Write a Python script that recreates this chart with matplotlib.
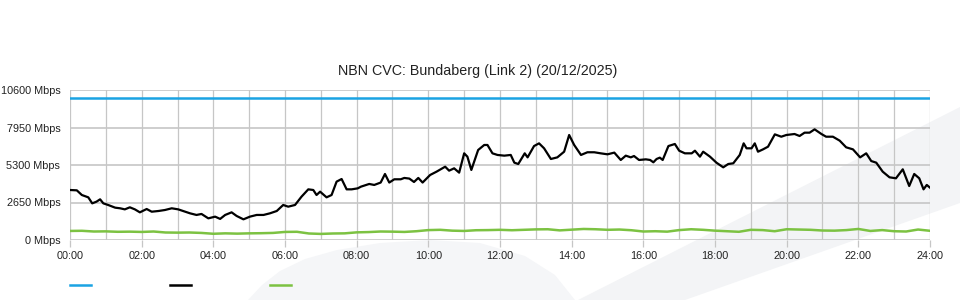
import matplotlib
matplotlib.use("Agg")
import matplotlib.pyplot as plt
from matplotlib.patches import Polygon
from matplotlib.lines import Line2D
import numpy as np

plt.rcParams['font.family'] = ['Liberation Sans', 'DejaVu Sans']

# chart data
title = "NBN CVC: Bundaberg (Link 2) (20/12/2025)"
y_ticks = [0, 2650, 5300, 7950, 10600]
y_tick_labels = ["0 Mbps", "2650 Mbps", "5300 Mbps", "7950 Mbps", "10600 Mbps"]
x_ticks = list(range(0, 25, 2))
x_tick_labels = ["00:00", "02:00", "04:00", "06:00", "08:00", "10:00", "12:00",
                 "14:00", "16:00", "18:00", "20:00", "22:00", "24:00"]

capacity = 10000  # Mbps, blue line

# black line: traffic (hour of day, Mbps)
traffic_hours = [0.0, 0.19, 0.33, 0.51, 0.62, 0.74, 0.84, 0.93, 1.07, 1.26, 1.4, 1.53,
                 1.67, 1.81, 1.95, 2.14, 2.28, 2.47, 2.65, 2.84, 3.02, 3.21, 3.35, 3.53,
                 3.67, 3.86, 4.05, 4.19, 4.33, 4.51, 4.65, 4.84, 5.02, 5.21, 5.4, 5.58,
                 5.77, 5.95, 6.09, 6.28, 6.46, 6.65, 6.79, 6.88, 6.98, 7.16, 7.3, 7.44,
                 7.58, 7.72, 7.86, 8.03, 8.12, 8.35, 8.49, 8.67, 8.79, 8.91, 9.05, 9.23,
                 9.33, 9.47, 9.6, 9.72, 9.84, 10.05, 10.23, 10.47, 10.58, 10.72, 10.86,
                 11.0, 11.09, 11.2, 11.39, 11.56, 11.65, 11.79, 11.93, 12.12, 12.3, 12.4,
                 12.51, 12.69, 12.77, 12.95, 13.09, 13.23, 13.42, 13.6, 13.79, 13.93,
                 14.07, 14.26, 14.44, 14.63, 14.81, 15.0, 15.19, 15.37, 15.51, 15.65,
                 15.74, 15.88, 16.07, 16.19, 16.28, 16.37, 16.46, 16.54, 16.7, 16.88,
                 17.0, 17.16, 17.35, 17.44, 17.58, 17.67, 17.86, 18.04, 18.23, 18.37,
                 18.51, 18.69, 18.8, 18.88, 19.02, 19.11, 19.2, 19.34, 19.48, 19.67,
                 19.85, 19.99, 20.22, 20.36, 20.5, 20.64, 20.78, 20.97, 21.1, 21.29,
                 21.48, 21.66, 21.85, 22.05, 22.22, 22.36, 22.5, 22.68, 22.87, 23.05,
                 23.24, 23.42, 23.56, 23.7, 23.82, 23.91, 24.0]
traffic = [3533, 3510, 3180, 3015, 2590, 2710, 2875, 2590, 2470, 2285, 2240, 2165,
           2310, 2165, 1955, 2190, 2000, 2050, 2120, 2240, 2165, 2000, 1885, 1770,
           1840, 1530, 1650, 1490, 1770, 1955, 1700, 1460, 1650, 1770, 1770, 1885,
           2050, 2475, 2355, 2475, 3060, 3580, 3533, 3180, 3415, 3015, 3180, 4125,
           4310, 3580, 3580, 3650, 3770, 3960, 3890, 4060, 4665, 4060, 4290, 4290,
           4385, 4340, 4100, 4385, 4060, 4595, 4830, 5180, 4900, 5065, 4760,
           6125, 5890, 4950, 6360, 6715, 6715, 6125, 6010, 5960, 6010, 5465,
           5370, 6125, 5840, 6640, 6830, 6480, 5725, 5840, 6240, 7420,
           6715, 6010, 6200, 6200, 6125, 6055, 6175, 5655, 5960, 5840,
           5935, 5655, 5700, 5655, 5490, 5725, 5820, 5655, 6640, 6785,
           6310, 6125, 6125, 6310, 5890, 6240, 5890, 5465, 5135, 5370,
           5420, 6010, 6830, 6480, 6480, 6830, 6240, 6405, 6595, 7465,
           7300, 7420, 7490, 7350, 7585, 7585, 7820, 7490, 7300, 7300,
           7020, 6550, 6405, 5840, 6125, 5580, 5465, 4830, 4430, 4360,
           4995, 3815, 4665, 4360, 3580, 3890, 3700]

# green line: second series, sampled every 20 minutes
green = [640, 650, 600, 610, 580, 590, 570, 600, 530, 520, 530, 500,
         440, 470, 450, 470, 480, 500, 570, 580, 460, 430, 460, 470,
         540, 560, 600, 590, 570, 620, 700, 720, 660, 640, 690, 700,
         720, 690, 720, 750, 760, 680, 730, 780, 760, 720, 740, 690,
         600, 620, 590, 700, 760, 720, 660, 620, 580, 720, 700, 620,
         760, 740, 720, 670, 660, 700, 780, 640, 700, 620, 600, 740, 650]
green_hours = np.linspace(0, 24, len(green))

blue_c = "#1aa3e3"
black_c = "#000000"
green_c = "#7cc242"
grid_c = "#c6c6c6"
text_c = "#222222"

fig = plt.figure(figsize=(9.6, 3.0), dpi=100, facecolor="white")

# faint watermark shapes in the background (pixel coords)
bg = fig.add_axes([0, 0, 1, 1], zorder=-1)
bg.set_xlim(0, 960)
bg.set_ylim(300, 0)
bg.axis("off")
hill = [(248, 300), (262, 285), (280, 271), (305, 259), (337, 250), (380, 243),
        (430, 240), (480, 243), (525, 256), (555, 275), (575, 300)]
band = [(578, 300), (960, 107), (960, 203), (685, 300)]
bg.add_patch(Polygon(hill, closed=True, facecolor="#f5f6f8", edgecolor="none"))
bg.add_patch(Polygon(band, closed=True, facecolor="#f3f4f6", edgecolor="none"))

ax = fig.add_axes([70 / 960, 0.2, 860 / 960, 0.5], zorder=1)
ax.patch.set_alpha(0)

ax.set_xlim(0, 24)
ax.set_ylim(0, 10600)

# grid
for h in range(0, 25):
    ax.axvline(h, color=grid_c, lw=0.9, zorder=0)
for v in y_ticks:
    ax.axhline(v, color=grid_c, lw=1.2, zorder=0)

ax.axhline(capacity, color=blue_c, lw=1.8, zorder=3)
ax.plot(traffic_hours, traffic, color=black_c, lw=1.6, zorder=4)
ax.plot(green_hours, green, color=green_c, lw=1.8, zorder=3)

for s in ax.spines.values():
    s.set_visible(False)

ax.set_yticks(y_ticks)
ax.set_yticklabels(y_tick_labels)
ax.set_xticks(x_ticks)
ax.set_xticklabels(x_tick_labels)
ax.tick_params(axis="y", length=0, pad=7, labelsize=7.8, labelcolor=text_c)
ax.tick_params(axis="x", length=5, width=0.9, color=grid_c, pad=3,
               labelsize=7.8, labelcolor=text_c)

fig.text(0.498, 1 - 71 / 300, title, ha="center", va="center",
         fontsize=10.3, color=text_c)

# legend swatches without labels
for x0, c in [(70, blue_c), (170, black_c), (270, green_c)]:
    fig.add_artist(Line2D([x0 / 960, (x0 + 21) / 960], [1 - 285 / 300] * 2,
                          color=c, lw=1.8))

fig.savefig("out.png", dpi=100, facecolor="white")
